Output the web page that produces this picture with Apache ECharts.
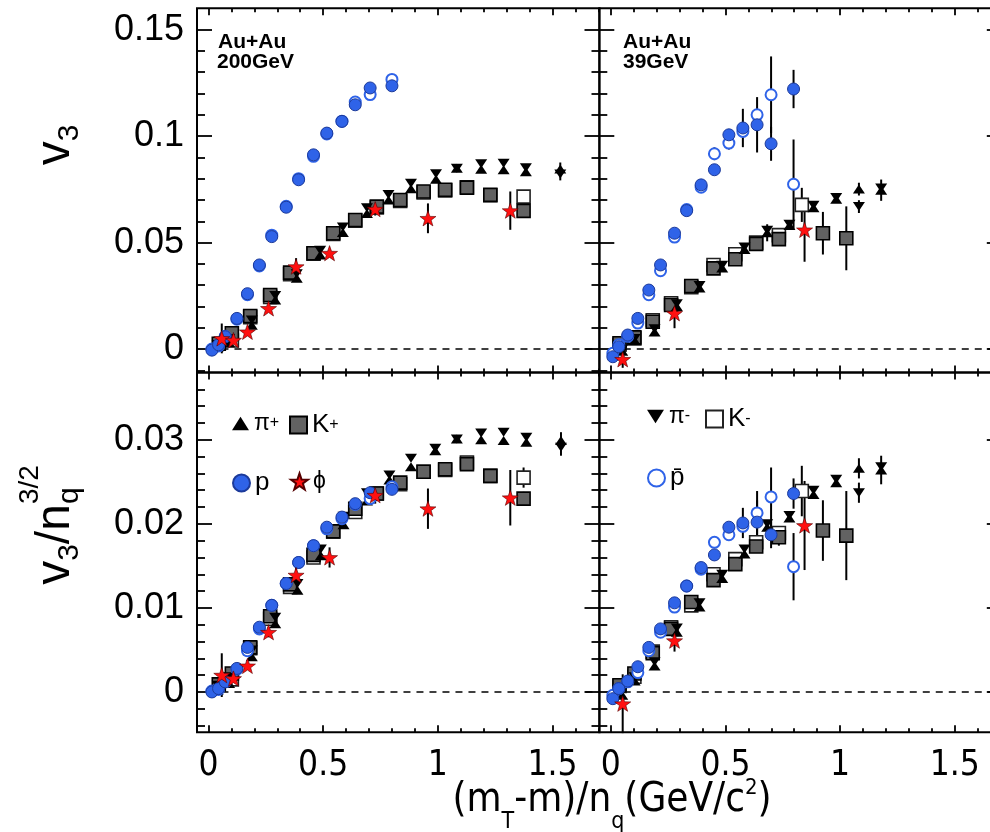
<!DOCTYPE html>
<html>
<head>
<meta charset="utf-8">
<script src="https://cdn.jsdelivr.net/npm/echarts@6/dist/echarts.min.js"></script>
<style>
html,body{margin:0;padding:0;background:#fff}
#chart{width:990px;height:832px}
</style>
</head>
<body>
<div id="chart"></div>
<script>
// Triangular flow v3 vs (mT-m)/nq, Au+Au at 200 GeV (left) and 39 GeV (right).
// Each point: [ (mT-m)/nq , value , stat. error ]

// ---- Au+Au 200 GeV, v3 ----
const pip200 = [[0.04,0.0008,0],[0.09,0.0030,0],[0.189,0.0112,0],[0.291,0.0230,0],[0.385,0.0332,0],[0.487,0.0442,0],[0.586,0.0547,0],[0.691,0.0637,0],[0.785,0.0700,0],[0.883,0.0753,0],[0.992,0.0797,0],[1.083,0.0849,0],[1.189,0.0844,0],[1.287,0.0842,0],[1.384,0.0833,0],[1.534,0.0846,0.003]];
const pim200 = [[0.04,0.0022,0],[0.09,0.0050,0],[0.189,0.0136,0],[0.291,0.0252,0],[0.385,0.0354,0],[0.487,0.0464,0],[0.586,0.0573,0],[0.691,0.0663,0],[0.785,0.0726,0],[0.883,0.0779,0],[0.992,0.0823,0],[1.083,0.0849,0],[1.189,0.0870,0],[1.287,0.0872,0],[1.384,0.0851,0],[1.534,0.0822,0.003]];
const kp200 = [[0.045,0.0025,0],[0.102,0.0074,0],[0.182,0.0155,0],[0.269,0.0254,0],[0.356,0.0359,0],[0.458,0.0450,0],[0.544,0.0544,0],[0.640,0.0606,0],[0.734,0.0669,0],[0.836,0.0700,0],[0.938,0.0740,0],[1.032,0.0748,0],[1.127,0.0758,0],[1.229,0.0724,0],[1.374,0.0649,0.002]];
const km200 = [[0.102,0.0040,0],[0.182,0.0150,0],[0.269,0.0245,0],[0.356,0.0352,0],[0.458,0.0448,0],[0.544,0.0540,0],[0.640,0.0603,0],[0.734,0.0665,0],[0.836,0.0695,0],[0.938,0.0735,0],[1.032,0.0745,0],[1.127,0.0760,0],[1.229,0.0722,0],[1.374,0.0716,0.003]];
const p200 = [[0.015,-0.0005,0],[0.044,0.0020,0],[0.073,0.0058,0],[0.124,0.0144,0],[0.170,0.0260,0],[0.222,0.0395,0],[0.276,0.0528,0],[0.339,0.0666,0],[0.393,0.0795,0],[0.458,0.0912,0],[0.516,0.1014,0],[0.582,0.1069,0],[0.640,0.1147,0],[0.705,0.1226,0],[0.800,0.1236,0]];
const pbar200 = [[0.015,0.0000,0],[0.044,0.0015,0],[0.073,0.0060,0],[0.124,0.0140,0],[0.170,0.0255,0],[0.222,0.0390,0],[0.276,0.0535,0],[0.339,0.0670,0],[0.393,0.0800,0],[0.458,0.0905,0],[0.516,0.1010,0],[0.582,0.1070,0],[0.640,0.1160,0],[0.705,0.1195,0],[0.800,0.1266,0]];
const phi200 = [[0.058,0.0050,0.007],[0.109,0.0042,0],[0.170,0.0081,0],[0.262,0.0191,0],[0.382,0.0387,0.004],[0.528,0.0450,0],[0.727,0.0657,0.003],[0.957,0.0614,0.007],[1.316,0.0650,0.009]];

// ---- Au+Au 39 GeV, v3 ----
const pip39 = [[0.05,-0.0010,0],[0.104,0.0040,0],[0.191,0.0080,0],[0.288,0.0200,0],[0.387,0.0287,0],[0.486,0.0381,0],[0.583,0.0467,0],[0.682,0.0546,0.004],[0.779,0.0580,0],[0.884,0.0663,0],[0.983,0.0704,0],[1.082,0.0751,0.003],[1.179,0.0746,0.005]];
const pim39 = [[0.05,0.0000,0],[0.104,0.0050,0],[0.191,0.0095,0],[0.288,0.0213,0],[0.387,0.0299,0],[0.486,0.0393,0],[0.583,0.0479,0],[0.682,0.0558,0],[0.779,0.0586,0],[0.884,0.0675,0],[0.983,0.0712,0],[1.082,0.0669,0.003],[1.179,0.0756,0]];
const kp39 = [[0.038,0.0027,0],[0.103,0.0055,0],[0.183,0.0128,0],[0.263,0.0207,0],[0.351,0.0296,0],[0.448,0.0379,0],[0.543,0.0422,0],[0.634,0.0494,0],[0.733,0.0516,0],[0.925,0.0544,0.010],[1.027,0.0520,0.015]];
const km39 = [[0.038,0.0020,0],[0.103,0.0050,0],[0.183,0.0135,0],[0.263,0.0215,0],[0.351,0.0290,0],[0.448,0.0395,0],[0.543,0.0445,0],[0.634,0.0500,0],[0.733,0.0535,0.003],[0.833,0.0677,0.008]];
const p39 = [[0.009,-0.0036,0],[0.035,0.0011,0],[0.074,0.0066,0],[0.118,0.0144,0],[0.166,0.0277,0],[0.217,0.0395,0],[0.278,0.0544,0],[0.331,0.0650,0],[0.394,0.0771,0],[0.452,0.0842,0.002],[0.515,0.1006,0.002],[0.576,0.1038,0.009],[0.638,0.1053,0.013],[0.699,0.0964,0.008],[0.797,0.1221,0.009]];
const pbar39 = [[0.009,-0.0020,0],[0.035,0.0020,0],[0.074,0.0060,0],[0.118,0.0122,0],[0.166,0.0255,0],[0.217,0.0368,0],[0.278,0.0526,0],[0.331,0.0655,0],[0.394,0.0760,0],[0.452,0.0917,0.003],[0.515,0.0967,0.003],[0.576,0.1022,0],[0.638,0.1100,0],[0.699,0.1194,0.018],[0.797,0.0774,0.021]];
const phi39 = [[0.052,-0.0048,0.004],[0.278,0.0168,0.007],[0.845,0.0560,0.015]];

// ---- Au+Au 200 GeV, v3/nq^(3/2) ----
const pip200s = [[0.04,0.0002,0],[0.09,0.0010,0],[0.189,0.0042,0],[0.291,0.0081,0],[0.388,0.0121,0],[0.490,0.0162,0],[0.589,0.0199,0],[0.691,0.0227,0],[0.789,0.0252,0],[0.883,0.0268,0],[0.989,0.0287,0],[1.083,0.0301,0],[1.189,0.0300,0],[1.287,0.0299,0],[1.386,0.0297,0],[1.537,0.0299,0.001]];
const pim200s = [[0.04,0.0008,0],[0.09,0.0018,0],[0.189,0.0050,0],[0.291,0.0089,0],[0.388,0.0129,0],[0.490,0.0170,0],[0.589,0.0209,0],[0.691,0.0237,0],[0.789,0.0258,0],[0.883,0.0278,0],[0.989,0.0290,0],[1.083,0.0301,0],[1.189,0.0308,0],[1.287,0.0309,0],[1.386,0.0303,0],[1.537,0.0291,0.001]];
const kp200s = [[0.045,0.0009,0],[0.102,0.0022,0],[0.182,0.0053,0],[0.269,0.0090,0],[0.356,0.0128,0],[0.458,0.0163,0],[0.544,0.0191,0],[0.640,0.0218,0],[0.734,0.0236,0],[0.836,0.0249,0],[0.938,0.0262,0],[1.032,0.0265,0],[1.127,0.0271,0],[1.229,0.0257,0.0006],[1.374,0.0230,0.0008]];
const km200s = [[0.102,0.0015,0],[0.182,0.0052,0],[0.269,0.0087,0],[0.356,0.0125,0],[0.458,0.0160,0],[0.544,0.0191,0],[0.640,0.0214,0],[0.734,0.0236,0],[0.836,0.0247,0],[0.938,0.0262,0],[1.032,0.0264,0],[1.127,0.0273,0],[1.229,0.0257,0],[1.374,0.0255,0.0012]];
const p200s = [[0.015,0.0000,0],[0.044,0.0004,0],[0.073,0.0012,0],[0.124,0.0028,0],[0.170,0.0053,0],[0.222,0.0077,0],[0.276,0.0103,0],[0.339,0.0129,0],[0.393,0.0154,0],[0.458,0.0174,0],[0.516,0.0196,0],[0.582,0.0208,0],[0.640,0.0224,0],[0.705,0.0237,0],[0.800,0.0241,0]];
const pbar200s = [[0.015,0.0001,0],[0.044,0.0003,0],[0.073,0.0012,0],[0.124,0.0027,0],[0.170,0.0049,0],[0.222,0.0075,0],[0.276,0.0103,0],[0.339,0.0129,0],[0.393,0.0154,0],[0.458,0.0174,0],[0.516,0.0194,0],[0.582,0.0206,0],[0.640,0.0223,0],[0.705,0.0230,0],[0.800,0.0244,0]];
const phi200s = [[0.058,0.0020,0.0026],[0.109,0.0016,0],[0.170,0.0031,0],[0.262,0.0071,0.0006],[0.382,0.0139,0.0012],[0.528,0.0160,0.0012],[0.727,0.0234,0.0010],[0.957,0.0218,0.0024],[1.316,0.0231,0.0033]];

// ---- Au+Au 39 GeV, v3/nq^(3/2) ----
const pip39s = [[0.05,-0.0004,0],[0.104,0.0013,0],[0.191,0.0031,0],[0.288,0.0071,0],[0.387,0.0101,0],[0.486,0.0135,0],[0.583,0.0164,0],[0.682,0.0196,0],[0.779,0.0207,0],[0.884,0.0235,0],[0.983,0.0249,0],[1.082,0.0266,0.0012],[1.179,0.0264,0.0017]];
const pim39s = [[0.05,0.0002,0],[0.104,0.0018,0],[0.191,0.0036,0],[0.288,0.0076,0],[0.387,0.0106,0],[0.486,0.0140,0],[0.583,0.0170,0],[0.682,0.0200,0],[0.779,0.0210,0],[0.884,0.0240,0],[0.983,0.0253,0],[1.082,0.0237,0.0012],[1.179,0.0268,0]];
const kp39s = [[0.038,0.0008,0],[0.103,0.0022,0],[0.183,0.0046,0],[0.263,0.0075,0],[0.351,0.0107,0],[0.448,0.0133,0],[0.543,0.0152,0],[0.634,0.0173,0],[0.733,0.0184,0.0010],[0.925,0.0192,0.0036],[1.027,0.0186,0.0053]];
const km39s = [[0.038,0.0007,0],[0.103,0.0018,0],[0.183,0.0048,0],[0.263,0.0077,0],[0.351,0.0103,0],[0.448,0.0140,0],[0.543,0.0158,0],[0.634,0.0178,0],[0.733,0.0189,0],[0.833,0.0239,0.0030]];
const p39s = [[0.009,-0.0008,0],[0.035,0.0004,0],[0.074,0.0013,0],[0.118,0.0030,0],[0.166,0.0053,0],[0.217,0.0075,0],[0.278,0.0106,0],[0.331,0.0126,0],[0.394,0.0148,0],[0.452,0.0163,0],[0.515,0.0196,0.0006],[0.576,0.0201,0.0018],[0.638,0.0202,0.0026],[0.699,0.0187,0.0016],[0.797,0.0236,0.0018]];
const pbar39s = [[0.009,-0.0004,0],[0.035,0.0004,0],[0.074,0.0012,0],[0.118,0.0023,0],[0.166,0.0049,0],[0.217,0.0071,0],[0.278,0.0101,0],[0.331,0.0126,0],[0.394,0.0146,0],[0.452,0.0178,0.0006],[0.515,0.0187,0.0006],[0.576,0.0197,0],[0.638,0.0213,0.0026],[0.699,0.0232,0.0035],[0.797,0.0149,0.0040]];
const phi39s = [[0.052,-0.0014,0.0035],[0.278,0.0061,0.0013],[0.845,0.0198,0.0053]];

// ---- axes ----
const X_RANGE = [-0.05, 1.705];
const Y_RANGE_V3 = [-0.011, 0.16];
const Y_RANGE_SCALED = [-0.0048, 0.038];
const xTickLabels = [0, 0.5, 1, 1.5];
const yTickLabelsV3 = [0, 0.05, 0.1, 0.15];
const yTickLabelsScaled = [0, 0.01, 0.02, 0.03];

const FONT = "'Liberation Sans', Arial, Helvetica, sans-serif";
const NARROW = "'Liberation Sans Narrow', 'DejaVu Sans Condensed', sans-serif";
const BLUE = '#2f63e8';
const STAR = 'path://M0,-10 L2.35,-3.24 L9.51,-3.09 L3.8,1.24 L5.88,8.09 L0,4 L-5.88,8.09 L-3.8,1.24 L-9.51,-3.09 L-2.35,-3.24 Z';
const TRI_DOWN = 'path://M0,0 L10,0 L5,8 Z';
const TRI_UP = 'path://M5,0 L10,8 L0,8 Z';

const species = {
  km:   {symbol: 'rect', size: 13, color: '#fff', border: '#222', bw: 1.6},
  kp:   {symbol: 'rect', size: 13, color: '#626262', border: '#000', bw: 1.6},
  pip:  {symbol: TRI_UP, size: [12, 9], color: '#000', border: '#000', bw: 0},
  pim:  {symbol: TRI_DOWN, size: [12, 9], color: '#000', border: '#000', bw: 0},
  pbar: {symbol: 'circle', size: 11, color: '#fff', border: BLUE, bw: 2},
  p:    {symbol: 'circle', size: 12, color: BLUE, border: '#1c3a9a', bw: 1},
  phi:  {symbol: STAR, size: 16, color: '#ff1010', border: '#500', bw: 0.6}
};
const drawOrder = ['km', 'kp', 'pip', 'pim', 'pbar', 'p', 'phi'];

const panels = [
  {rect: {left: 197, top: 8.3, width: 402.5, height: 364.2}, y: Y_RANGE_V3, yMajor: yTickLabelsV3, yStep: 0.01, xLab: false, yLab: true,
   sets: {pip: pip200, pim: pim200, kp: kp200, km: km200, p: p200, pbar: pbar200, phi: phi200}},
  {rect: {left: 599.3, top: 8.3, width: 402.5, height: 364.2}, y: Y_RANGE_V3, yMajor: yTickLabelsV3, yStep: 0.01, xLab: false, yLab: false,
   sets: {pip: pip39, pim: pim39, kp: kp39, km: km39, p: p39, pbar: pbar39, phi: phi39}},
  {rect: {left: 197, top: 372.5, width: 402.5, height: 359.8}, y: Y_RANGE_SCALED, yMajor: yTickLabelsScaled, yStep: 0.002, xLab: true, yLab: true,
   sets: {pip: pip200s, pim: pim200s, kp: kp200s, km: km200s, p: p200s, pbar: pbar200s, phi: phi200s}},
  {rect: {left: 599.3, top: 372.5, width: 402.5, height: 359.8}, y: Y_RANGE_SCALED, yMajor: yTickLabelsScaled, yStep: 0.002, xLab: true, yLab: false,
   sets: {pip: pip39s, pim: pim39s, kp: kp39s, km: km39s, p: p39s, pbar: pbar39s, phi: phi39s}}
];

function minorValues(range, step, majors) {
  const out = [];
  const n0 = Math.ceil(range[0] / step - 1e-9), n1 = Math.floor(range[1] / step + 1e-9);
  for (let i = n0; i <= n1; i++) {
    const v = +(i * step).toFixed(6);
    if (!majors.some(m => Math.abs(m - v) < step / 10) && v > range[0] + 1e-9 && v < range[1] - 1e-9) out.push(v);
  }
  return out;
}

const grids = [], xAxes = [], yAxes = [], series = [];
const tickStyle = {color: '#000', width: 1.8};

panels.forEach((pn, gi) => {
  grids.push(Object.assign({show: true, borderColor: '#000', borderWidth: 2, backgroundColor: 'transparent',
    containLabel: false, outerBoundsMode: 'none'}, pn.rect));
  const xMinor = minorValues(X_RANGE, 0.1, xTickLabels);
  const yMinor = minorValues(pn.y, pn.yStep, pn.yMajor);
  const xIdx = xAxes.length, yIdx = yAxes.length;
  [['bottom', true], ['bottom', false], ['top', true], ['top', false]].forEach(([pos, major]) => {
    xAxes.push({
      type: 'value', gridIndex: gi, position: pos, min: X_RANGE[0], max: X_RANGE[1],
      axisLine: {show: false, onZero: false}, splitLine: {show: false},
      axisTick: {show: true, inside: true, length: major ? 7 : 4, lineStyle: tickStyle,
        customValues: major ? xTickLabels : xMinor},
      axisLabel: {show: major && pos === 'bottom' && pn.xLab, customValues: xTickLabels, margin: 16,
        fontFamily: NARROW, fontSize: 35, color: '#000'}
    });
  });
  [['left', true], ['left', false], ['right', true], ['right', false]].forEach(([pos, major]) => {
    yAxes.push({
      type: 'value', gridIndex: gi, position: pos, min: pn.y[0], max: pn.y[1],
      axisLine: {show: false, onZero: false}, splitLine: {show: false},
      axisTick: {show: true, inside: true, length: major ? 15 : 8, lineStyle: tickStyle,
        customValues: major ? pn.yMajor : yMinor},
      axisLabel: {show: major && pos === 'left' && pn.yLab, customValues: pn.yMajor, margin: 13,
        fontFamily: FONT, fontSize: 36, color: '#000'}
    });
  });

  // dashed zero line across the frame
  series.push({
    type: 'line', xAxisIndex: xIdx, yAxisIndex: yIdx, data: [[0, 0], [X_RANGE[1], 0]],
    symbol: 'none', silent: true, z: 1, lineStyle: {color: '#000', width: 1.6, type: [7, 6]}
  });

  drawOrder.forEach((key, k) => {
    const sp = species[key];
    const rows = pn.sets[key];
    const withErr = rows.filter(r => r[2] > 0);
    if (withErr.length) {
      series.push({
        type: 'custom', xAxisIndex: xIdx, yAxisIndex: yIdx, silent: true, z: 2,
        data: withErr, encode: {x: 0, y: 1},
        renderItem: (params, api) => {
          const x = api.value(0), y = api.value(1), e = api.value(2);
          const a = api.coord([x, y - e]), b = api.coord([x, y + e]);
          return {type: 'line', shape: {x1: a[0], y1: a[1], x2: b[0], y2: b[1]},
            style: {stroke: '#000', lineWidth: 2}};
        }
      });
    }
    series.push({
      type: 'scatter', name: key, xAxisIndex: xIdx, yAxisIndex: yIdx, z: 3 + k,
      data: rows.map(r => [r[0], r[1]]),
      symbol: sp.symbol, symbolSize: sp.size, symbolKeepAspect: key === 'phi',
      itemStyle: {color: sp.color, borderColor: sp.border, borderWidth: sp.bw, opacity: 1},
      emphasis: {disabled: true}
    });
  });
});

// ---- legends inside the lower panels ----
const legendText = {
  pip: '{g|π}{s|+}', kp: 'K{s|+}', p: 'p', phi: '{g|ϕ}',
  pim: '{g|π}{s|-}', km: 'K{s|-}', pbar: 'p\u0304'
};
const legendPos = [
  ['pip', 232, 412], ['kp', 289, 412], ['p', 232, 470], ['phi', 290, 470],
  ['pim', 647, 405], ['km', 705, 406], ['pbar', 647, 465]
];
const legends = legendPos.map(([key, left, top]) => ({
  data: [key], left: left, top: top, orient: 'horizontal', padding: 0,
  itemWidth: 17, itemHeight: 17, selectedMode: false,
  formatter: n => legendText[n],
  textStyle: {fontFamily: FONT, fontSize: 26, color: '#000', lineHeight: 17,
    rich: {g: {fontSize: 23, lineHeight: 17}, s: {fontSize: 16, lineHeight: 12, verticalAlign: 'top'}}}
}));

// ---- text runs with sub/superscripts, measured for placement ----
const mctx = document.createElement('canvas').getContext('2d');
function textRuns(list, family) {
  let x = 0, lastX = 0, end = 0;
  const kids = [];
  list.forEach(r => {
    const font = (r.w || 'normal') + ' ' + r.s + 'px ' + family;
    mctx.font = font;
    const w = mctx.measureText(r.t).width;
    const at = r.over ? lastX : x;
    kids.push({type: 'text', x: at, y: r.dy || 0,
      style: {text: r.t, font: font, fill: '#000', align: 'left', verticalAlign: 'middle'}});
    lastX = at;
    end = Math.max(end, at + w);
    x = r.over ? Math.max(x, at + w) : at + w;
  });
  return {kids, width: end};
}
function titleGroup(list, family, cx, cy, rotation) {
  const t = textRuns(list, family);
  t.kids.forEach(k => { k.x -= t.width / 2; });
  return {type: 'group', x: cx, y: cy, rotation: rotation, children: t.kids, silent: true};
}

const tagFont = 'bold 21px ' + FONT;
const graphics = [
  titleGroup([{t: '(m', s: 40}, {t: 'T', s: 23, dy: 21}, {t: '-m)/n', s: 40}, {t: 'q', s: 23, dy: 21},
    {t: '(GeV/c', s: 40}, {t: '2', s: 22, dy: -13}, {t: ')', s: 40}], NARROW, 612, 801, 0),
  titleGroup([{t: 'v', s: 48}, {t: '3', s: 30, dy: 14}], FONT, 56, 145, Math.PI / 2),
  titleGroup([{t: 'v', s: 48}, {t: '3', s: 30, dy: 14}, {t: '/n', s: 48}, {t: 'q', s: 30, dy: 14},
    {t: '3/2', s: 28, dy: -26, over: true}], FONT, 56, 525, Math.PI / 2),
  {type: 'text', x: 218, y: 42, silent: true, style: {text: 'Au+Au', font: tagFont, fill: '#000', align: 'left', verticalAlign: 'middle'}},
  {type: 'text', x: 217, y: 62, silent: true, style: {text: '200GeV', font: tagFont, fill: '#000', align: 'left', verticalAlign: 'middle'}},
  {type: 'text', x: 623, y: 42, silent: true, style: {text: 'Au+Au', font: tagFont, fill: '#000', align: 'left', verticalAlign: 'middle'}},
  {type: 'text', x: 623, y: 62, silent: true, style: {text: '39GeV', font: tagFont, fill: '#000', align: 'left', verticalAlign: 'middle'}}
];

const chart = echarts.init(document.getElementById('chart'), null, {renderer: 'canvas'});
chart.setOption({
  animation: false,
  backgroundColor: '#fff',
  grid: grids,
  xAxis: xAxes,
  yAxis: yAxes,
  legend: legends,
  series: series,
  graphic: graphics
});
</script>
</body>
</html>
